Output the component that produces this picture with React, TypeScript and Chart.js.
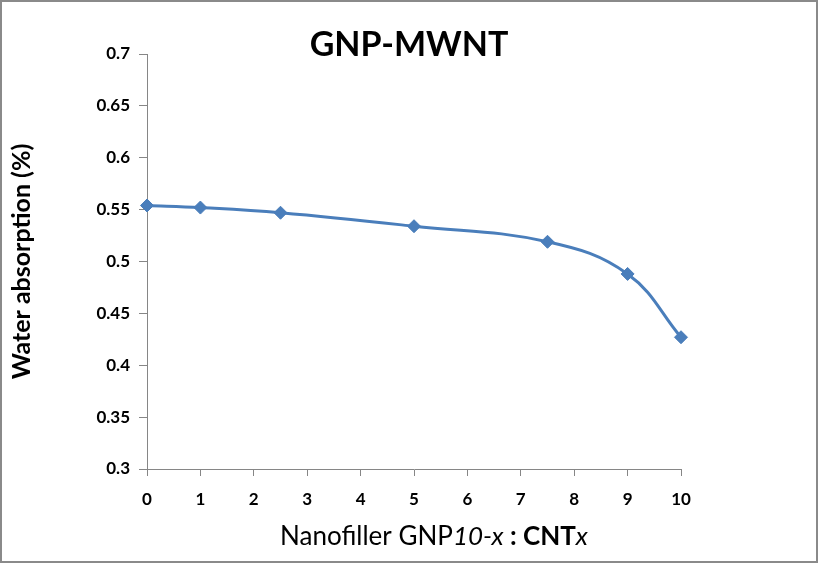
import React, { useEffect, useRef } from "react";
import { Chart, registerables } from "chart.js";

Chart.register(...registerables);

const xValues = [0, 1, 2.5, 5, 7.5, 9, 10];
const waterAbsorption = [0.554, 0.552, 0.547, 0.534, 0.519, 0.488, 0.427];
const chartTitle = "GNP-MWNT";
const yAxisTitle = "Water absorption (%)";
const xAxisTitleRuns = [
  { text: "Nanofiller GNP", style: "normal", weight: "normal" },
  { text: "10-x", style: "italic", weight: "normal" },
  { text: " : CNT", style: "normal", weight: "bold" },
  { text: "x", style: "italic", weight: "normal" },
];

const FONT = "Lato, 'Open Sans', sans-serif";
const LINE = "#4A7EBB";
const AXIS = "#868686";

const decorPlugin = {
  id: "decor",
  beforeDraw(chart: any) {
    const { ctx, width, height } = chart;
    ctx.save();
    ctx.fillStyle = "#ffffff";
    ctx.fillRect(0, 0, width, height);
    ctx.restore();
  },
  afterDraw(chart: any) {
    const { ctx, width, height } = chart;
    ctx.save();
    ctx.strokeStyle = "#8a8a8a";
    ctx.lineWidth = 2;
    ctx.strokeRect(1, 1, width - 2, height - 2);

    ctx.fillStyle = "#000000";
    ctx.textAlign = "center";
    ctx.textBaseline = "middle";
    ctx.font = `bold 34px ${FONT}`;
    ctx.fillText(chartTitle, 409, 45);

    // x-axis title with mixed styles
    const size = 26;
    const fonts = xAxisTitleRuns.map((r) => `${r.style} ${r.weight} ${size}px ${FONT}`);
    let total = 0;
    const widths = xAxisTitleRuns.map((r, i) => {
      ctx.font = fonts[i];
      const w = ctx.measureText(r.text).width;
      total += w;
      return w;
    });
    let x = 434 - total / 2;
    ctx.textAlign = "left";
    xAxisTitleRuns.forEach((r, i) => {
      ctx.font = fonts[i];
      ctx.fillText(r.text, x, 537);
      x += widths[i];
    });
    ctx.restore();
  },
};

export default function App() {
  const ref = useRef<HTMLCanvasElement>(null);
  useEffect(() => {
    document.body.style.margin = "0";
    const canvas = ref.current!;
    const chart = new Chart(canvas, {
      type: "line",
      data: {
        datasets: [
          {
            data: xValues.map((x, i) => ({ x, y: waterAbsorption[i] })),
            borderColor: LINE,
            backgroundColor: LINE,
            borderWidth: 3,
            tension: 0.4,
            clip: false,
            pointStyle: "rectRot",
            pointRadius: 6.5,
            pointBorderWidth: 1,
            pointBackgroundColor: LINE,
            pointBorderColor: LINE,
          },
        ],
      },
      options: {
        responsive: false,
        animation: false,
        devicePixelRatio: 1,
        layout: { padding: { left: 0, top: 54, right: 137, bottom: 0 } },
        plugins: { legend: { display: false }, tooltip: { enabled: false }, title: { display: false } },
        scales: {
          x: {
            type: "linear",
            min: 0,
            max: 10,
            ticks: {
              stepSize: 1,
              color: "#000",
              padding: 13,
              maxRotation: 0,
              font: { family: FONT, size: 17, weight: "bold" },
            },
            grid: { display: true, drawOnChartArea: false, color: AXIS, tickLength: 7 },
            border: { display: true, color: AXIS, width: 1 },
            afterFit: (s: any) => {
              s.height = 94;
            },
          },
          y: {
            min: 0.3,
            max: 0.7,
            ticks: {
              stepSize: 0.05,
              color: "#000",
              padding: 9,
              font: { family: FONT, size: 17, weight: "bold" },
              callback: (v: any) => String(Number(Number(v).toFixed(2))),
            },
            grid: { display: true, drawOnChartArea: false, color: AXIS, tickLength: 8 },
            border: { display: true, color: AXIS, width: 1 },
            title: {
              display: true,
              text: yAxisTitle,
              color: "#000",
              font: { family: FONT, size: 25, weight: "bold" },
              padding: { top: 7, bottom: 0 },
            },
            afterFit: (s: any) => {
              s.width = 147;
            },
          },
        },
      },
      plugins: [decorPlugin],
    } as any);
    return () => chart.destroy();
  }, []);
  return <canvas ref={ref} width={818} height={563} style={{ display: "block", width: 818, height: 563 }} />;
}
